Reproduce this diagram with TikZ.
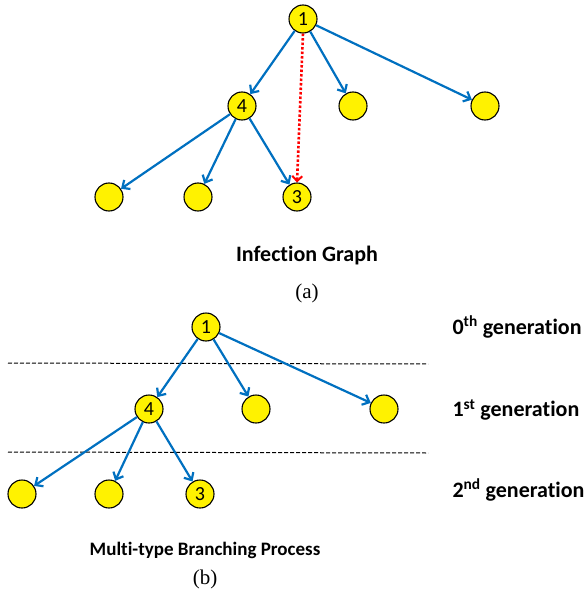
\documentclass[tikz,border=0pt]{standalone}
\usepackage{fontspec}
\newfontfamily\calibri[Ligatures=CommonOff]{Carlito}
\newfontfamily\bookserif{Liberation Serif}
\usetikzlibrary{arrows.meta, positioning}
\definecolor{edgeblue}{RGB}{0,112,192}

\tikzset{
  vert/.style={circle, draw=black, line width=1.1pt, fill=yellow, minimum size=28pt,
    inner sep=0pt, font=\calibri\fontsize{20}{20}\selectfont},
  infect/.style={draw=edgeblue, line width=2.2pt,
    -{Straight Barb[length=6pt,width=11pt]}},
  hidden/.style={draw=red, line width=2.6pt, dash pattern=on 2.5pt off 2pt,
    -{Straight Barb[length=5pt,width=10pt,line width=2pt]}},
  genline/.style={draw=black, line width=1pt, dash pattern=on 4pt off 2pt},
  caption/.style={font=\calibri\bfseries\fontsize{22}{22}\selectfont},
  sublabel/.style={font=\bookserif\fontsize{21}{21}\selectfont},
  genlabel/.style={anchor=west, font=\calibri\bfseries\fontsize{22}{22}\selectfont}
}

\begin{document}
\begin{tikzpicture}[x=1pt, y=-1pt]
        \useasboundingbox (0,0) rectangle (587,602);

        % (a) infection graph
        \node[vert] (a1) at (303,19) {1};
        \node[vert] (a4) at (242,106) {4};
        \node[vert] (a5) at (353,106) {};
        \node[vert] (a6) at (485,106) {};
        \node[vert] (a7) at (109,197) {};
        \node[vert] (a8) at (198,197) {};
        \node[vert] (a3) at (297,197) {3};

        \draw[infect] (a1) -- (a4);
        \draw[infect] (a1) -- (a5);
        \draw[infect] (a1) -- (a6);
        \draw[infect] (a4) -- (a7);
        \draw[infect] (a4) -- (a8);
        \draw[infect] (a4) -- (a3);
        \draw[hidden] (a1.south) -- (a3.north);

        \node[caption] (capa) at (307,256) {Infection Graph};
        \node[sublabel] (suba) at (307,293) {(a)};

        % (b) multi-type branching process
        \node[vert] (b1) at (206,327) {1};
        \node[vert] (b4) at (149,409) {4};
        \node[vert] (b5) at (256,409) {};
        \node[vert] (b6) at (384,409) {};
        \node[vert] (b7) at (22,494) {};
        \node[vert] (b8) at (109,494) {};
        \node[vert] (b3) at (200,494) {3};

        \coordinate (g1l) at (8,363);
        \coordinate (g1r) at (428,364);
        \coordinate (g2l) at (8,452);
        \coordinate (g2r) at (428,453);
        \draw[genline] (g1l) -- (g1r);
        \draw[genline] (g2l) -- (g2r);

        \draw[infect] (b1) -- (b4);
        \draw[infect] (b1) -- (b5);
        \draw[infect] (b1) -- (b6);
        \draw[infect] (b4) -- (b7);
        \draw[infect] (b4) -- (b8);
        \draw[infect] (b4) -- (b3);

        \node[genlabel] (gen0) at (449,327) {0\textsuperscript{th} generation};
        \node[genlabel] (gen1) at (449,410) {1\textsuperscript{st} generation};
        \node[genlabel] (gen2) at (449,490) {2\textsuperscript{nd} generation};

        \node[caption, font=\calibri\bfseries\fontsize{19}{19}\selectfont] (capb) at (205,550) {Multi-type Branching Process};
        \node[sublabel] (subb) at (205,579) {(b)};
\end{tikzpicture}
\end{document}
